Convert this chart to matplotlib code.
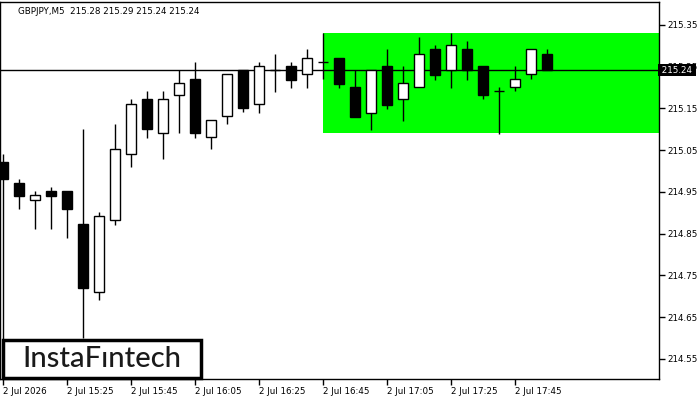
import matplotlib
matplotlib.use("Agg")
import matplotlib.pyplot as plt
from matplotlib.patches import Rectangle

# GBPJPY M5 candles, 2 Jul 15:05 .. 17:55
opens = [215.022, 214.972, 214.931, 214.952, 214.952, 214.873, 214.710, 214.883, 215.041, 215.173,
         215.091, 215.182, 215.221, 215.082, 215.132, 215.242, 215.161, 215.242, 215.252, 215.233,
         215.261, 215.271, 215.201, 215.139, 215.252, 215.173, 215.201, 215.293, 215.242, 215.293,
         215.252, 215.192, 215.201, 215.233, 215.281]
highs = [215.041, 214.981, 214.952, 214.962, 214.952, 215.101, 214.902, 215.113, 215.173, 215.192,
         215.192, 215.242, 215.261, 215.122, 215.233, 215.242, 215.261, 215.281, 215.261, 215.293,
         215.331, 215.271, 215.242, 215.242, 215.293, 215.252, 215.321, 215.302, 215.331, 215.312,
         215.252, 215.201, 215.252, 215.293, 215.293]
lows = [214.450, 214.909, 214.861, 214.861, 214.840, 214.600, 214.691, 214.871, 215.010, 215.079,
        215.029, 215.091, 215.079, 215.053, 215.113, 215.142, 215.139, 215.190, 215.199, 215.199,
        215.221, 215.199, 215.130, 215.099, 215.149, 215.120, 215.201, 215.218, 215.199, 215.218,
        215.173, 215.089, 215.192, 215.221, 215.242]
closes = [214.981, 214.940, 214.943, 214.940, 214.909, 214.720, 214.893, 215.053, 215.161, 215.101,
          215.173, 215.211, 215.091, 215.122, 215.233, 215.151, 215.252, 215.242, 215.218, 215.271,
          215.261, 215.209, 215.130, 215.242, 215.158, 215.211, 215.281, 215.230, 215.302, 215.242,
          215.182, 215.192, 215.221, 215.293, 215.242]

xtick_idx = [0, 4, 8, 12, 16, 20, 24, 28, 32]
xtick_labels = ["2 Jul 2026", "2 Jul 15:25", "2 Jul 15:45", "2 Jul 16:05", "2 Jul 16:25",
                "2 Jul 16:45", "2 Jul 17:05", "2 Jul 17:25", "2 Jul 17:45"]
ytick_vals = [214.55, 214.65, 214.75, 214.85, 214.95, 215.05, 215.15, 215.25, 215.35]

# rectangle (range) drawn on chart
box_start = 20
box_low, box_high = 215.091, 215.331
last_price = 215.242

W, H = 700, 400
fig = plt.figure(figsize=(W / 100, H / 100), dpi=100)
ax = fig.add_axes([0, 21 / H, 659 / W, 377 / H])
ax.set_xlim(-3 / 16, 656 / 16)
ax.set_ylim(214.502, 215.405)

ax.add_patch(Rectangle((box_start, box_low), 40, box_high - box_low,
                       facecolor="#00ff00", edgecolor="none", zorder=0))
ax.axhline(last_price, color="black", lw=1, zorder=1)

bw = 0.64
for i, (o, h, l, c) in enumerate(zip(opens, highs, lows, closes)):
    ax.vlines(i, l, h, color="black", lw=1, zorder=2)
    if abs(c - o) < 1e-6:
        ax.hlines(o, i - bw / 2, i + bw / 2, color="black", lw=1, zorder=3)
    else:
        fc = "white" if c > o else "black"
        ax.bar(i, abs(c - o), bottom=min(o, c), width=bw, facecolor=fc,
               edgecolor="black", lw=1, zorder=3)

ax.yaxis.tick_right()
ax.set_yticks(ytick_vals)
ax.set_yticklabels([f"{v:.2f}" for v in ytick_vals])
ax.set_xticks(xtick_idx)
ax.set_xticklabels(xtick_labels, ha="left")
ax.tick_params(axis="both", labelsize=6.3, length=4, width=1, pad=2, colors="black")
for s in ax.spines.values():
    s.set_linewidth(1)

ax.text(18 / 659, 1 - 9 / 377, "GBPJPY,M5  215.28 215.29 215.24 215.24",
        transform=ax.transAxes, fontsize=6.3, va="center", ha="left")

# current price tag sits over the 215.25 label, as on the terminal
ax.text(1.0, last_price, " 215.24 ", transform=ax.get_yaxis_transform(),
        fontsize=6.3, color="white", va="center", ha="left", clip_on=False, zorder=5,
        bbox=dict(boxstyle="square,pad=0.15", facecolor="black", edgecolor="none"))

# logo
fig.patches.append(Rectangle((3 / W, 22 / H), 198 / W, 38 / H, transform=fig.transFigure,
                             facecolor="white", edgecolor="black", lw=2.5, zorder=5))
fig.text(102 / W, 41 / H, "InstaF\u0131ntech", fontsize=21, family="Lato", weight="medium",
         color="#1a1a1a", ha="center", va="center", zorder=6)

fig.savefig("out.png", dpi=100)
